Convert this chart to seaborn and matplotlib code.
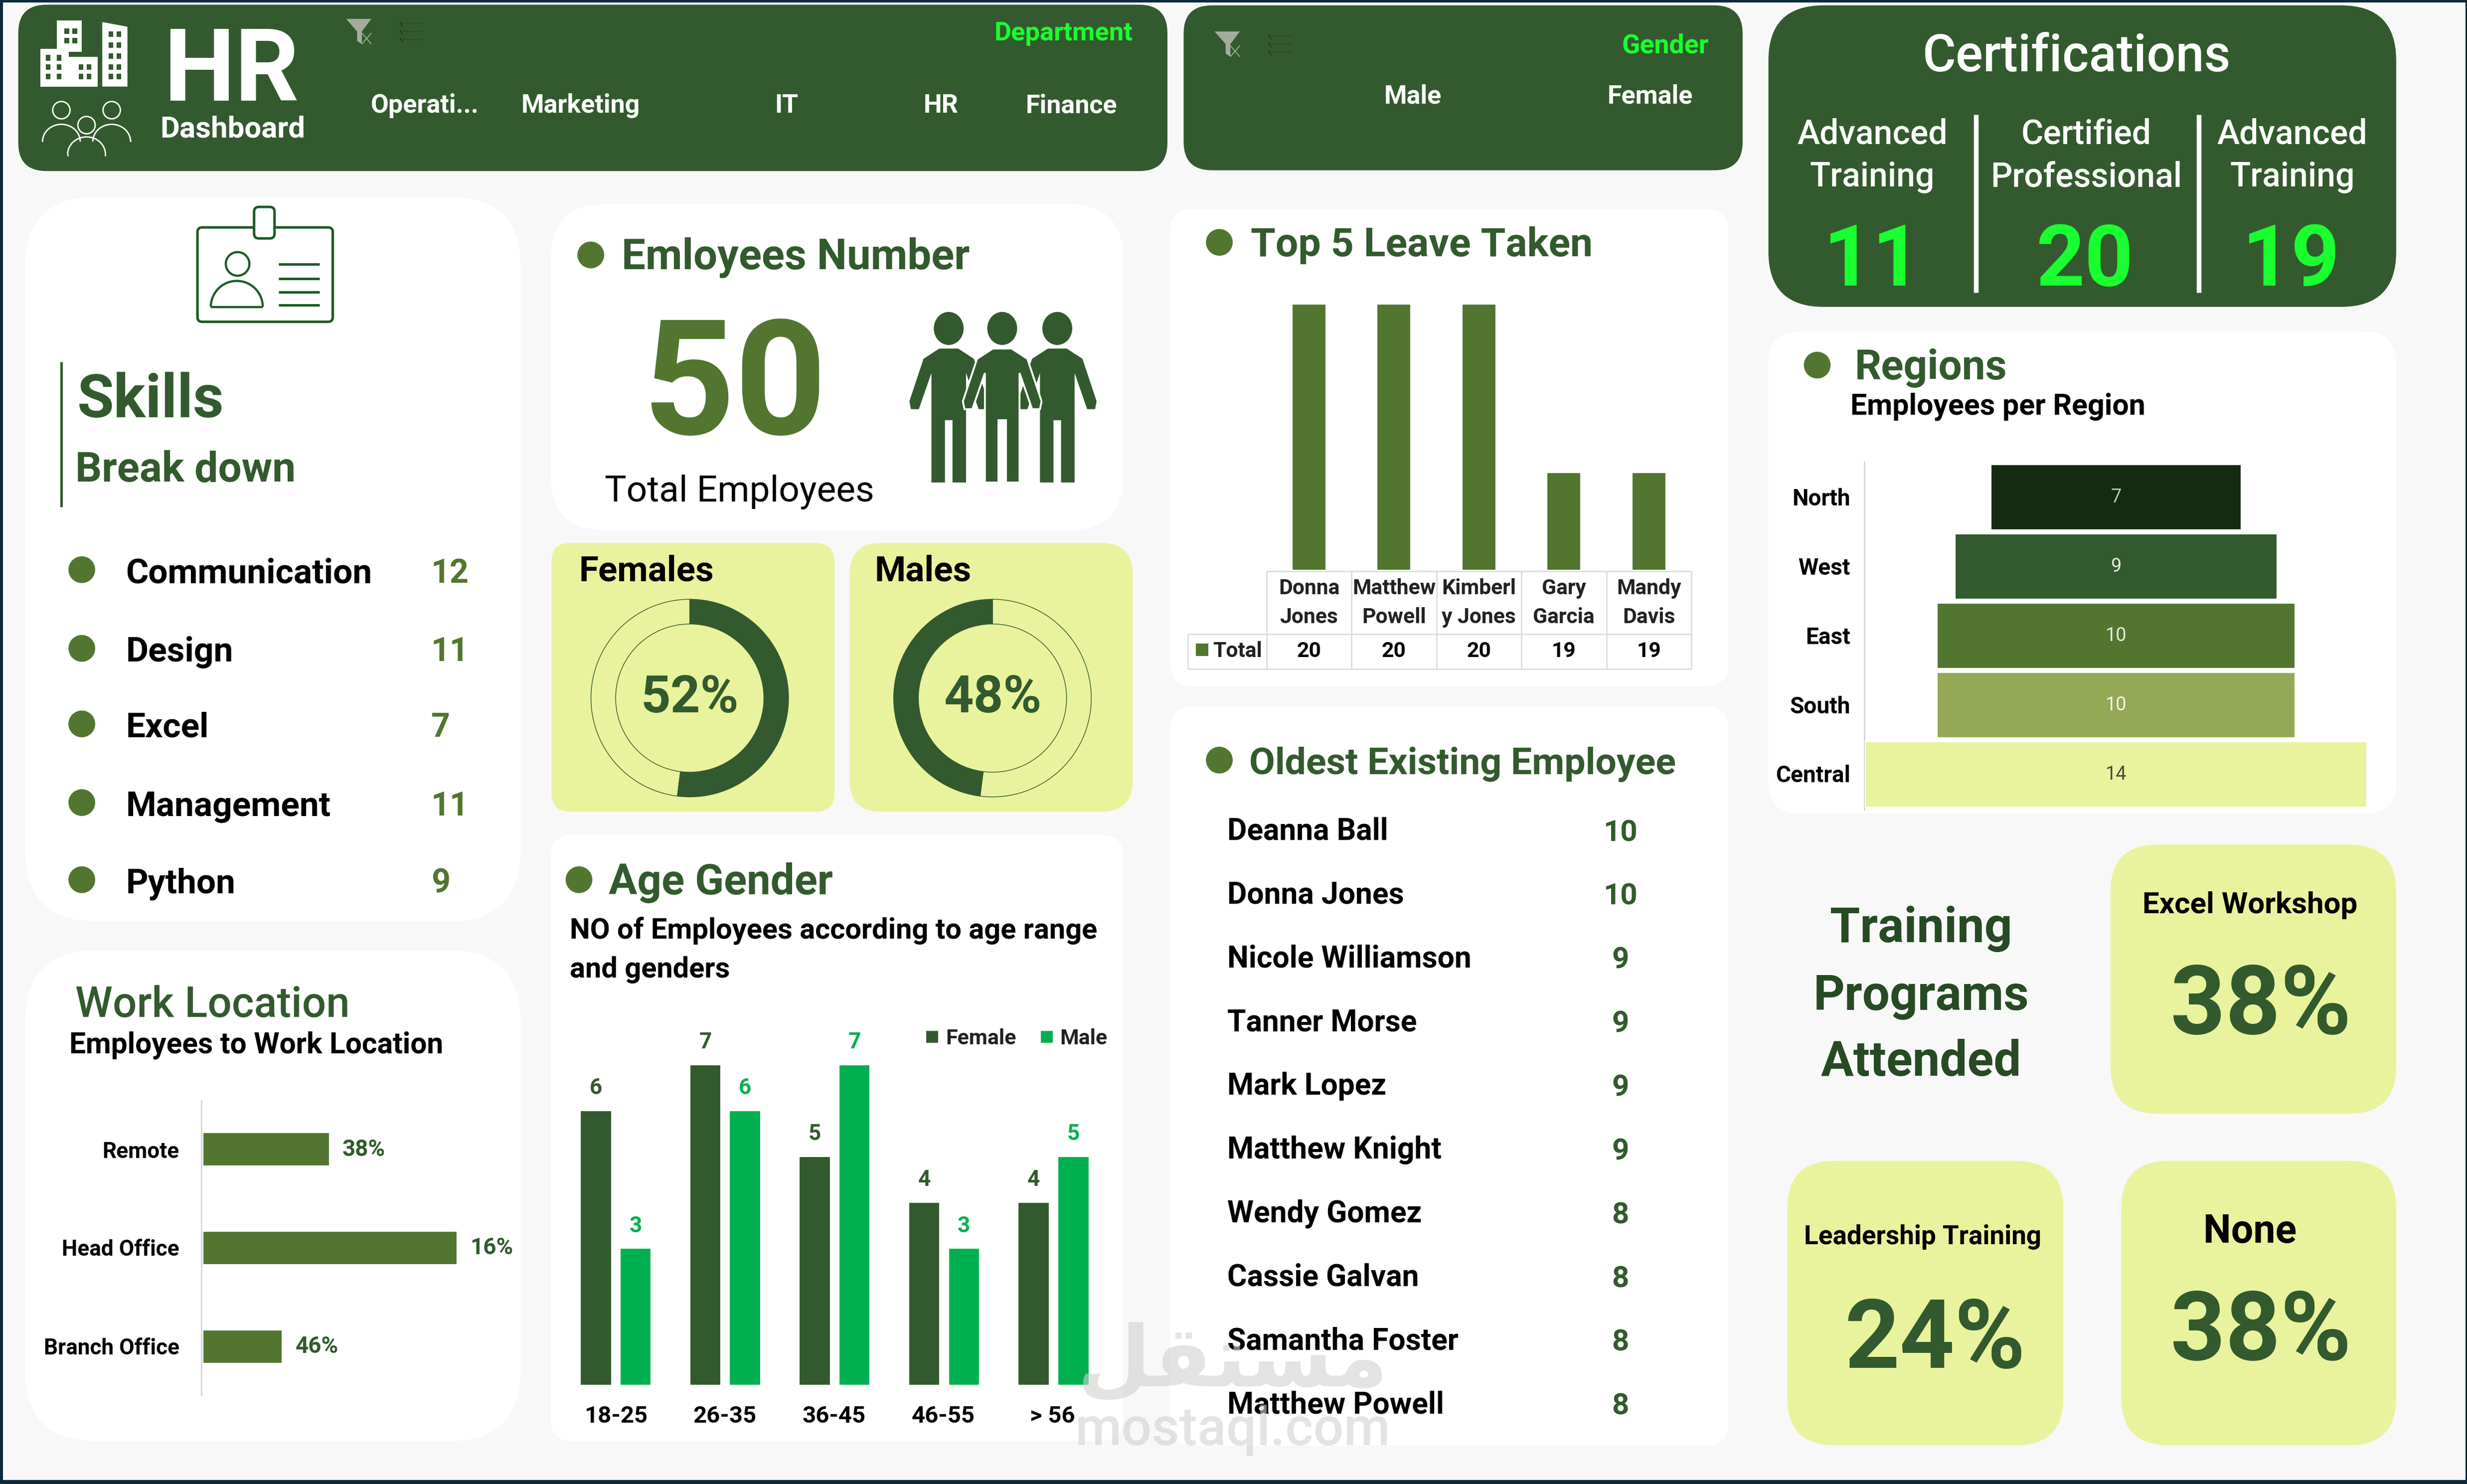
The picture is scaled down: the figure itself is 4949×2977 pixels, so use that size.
import pandas as pd
import matplotlib
matplotlib.use("Agg")
import matplotlib.pyplot as plt
import seaborn as sns
from matplotlib.patches import FancyBboxPatch, Rectangle, Ellipse, Arc, Polygon

# -------------------------
# Data
# -------------------------
departments = ["Operati...", "Marketing", "IT", "HR", "Finance"]
genders = ["Male", "Female"]

skill_names = ["Communication", "Design", "Excel", "Management", "Python"]
skill_counts = [12, 11, 7, 11, 9]

total_employees = 50
female_pct = [52, 48]
male_pct = [48, 52]

work_locations = ["Remote", "Head Office", "Branch Office"]
work_bar_values = [38, 76, 24]
work_labels = ["38%", "16%", "46%"]

age_groups = ["18-25", "26-35", "36-45", "46-55", "> 56"]
female_counts = [6, 7, 5, 4, 4]
male_counts = [3, 6, 7, 3, 5]

leave_names = ["Donna\nJones", "Matthew\nPowell", "Kimberl\ny Jones", "Gary\nGarcia", "Mandy\nDavis"]
leave_totals = [20, 20, 20, 19, 19]

oldest_names = ["Deanna Ball", "Donna Jones", "Nicole Williamson", "Tanner Morse", "Mark Lopez",
                "Matthew Knight", "Wendy Gomez", "Cassie Galvan", "Samantha Foster", "Matthew Powell"]
oldest_years = [10, 10, 9, 9, 9, 9, 8, 8, 8, 8]

cert_names = ["Advanced\nTraining", "Certified\nProfessional", "Advanced\nTraining"]
cert_counts = [11, 20, 19]

regions = ["North", "West", "East", "South", "Central"]
region_counts = [7, 9, 10, 10, 14]

# colours
DARK = "#335a2e"
MID = "#52762f"
LIGHT = "#e9f39d"
BRIGHT = "#1aff2f"
EMERALD = "#00b050"
BG = "#f8f8f8"
NAVY = "#0b2a3c"
region_colors = ["#142b12", DARK, MID, "#94a856", LIGHT]

# -------------------------
# Page set up, everything is placed in a 1568 x 943 grid
# -------------------------
sns.set_theme(style="white")
plt.rcParams["font.family"] = ["Roboto", "DejaVu Sans"]

W, H = 1568, 943
PT = 4949 / W / 300 * 72  # points per grid unit

fig = plt.figure(figsize=(4949 / 300, 2977 / 300), dpi=300, facecolor=BG)
bg = fig.add_axes([0, 0, 1, 1], zorder=0)
bg.set_xlim(0, W)
bg.set_ylim(H, 0)
bg.axis("off")


def box(x0, y0, x1, y1, r, color="white"):
    bg.add_patch(FancyBboxPatch((x0 + r, y0 + r), x1 - x0 - 2 * r, y1 - y0 - 2 * r,
                                boxstyle=f"round,pad={r},rounding_size={r}",
                                fc=color, ec="none"))


def txt(x, y, s, size, color="black", weight="bold", ha="left", ax=None, **kw):
    # va=center sits a little high, so push down in proportion to the font
    if ax is None:
        y = y + size * 0.07
    (ax or bg).text(x, y, s, fontsize=size * PT, color=color, fontweight=weight,
                    ha=ha, va="center", **kw)


def dot(x, y, r=8.5):
    bg.add_patch(Ellipse((x, y), 2 * r, 2 * r, fc=MID, ec="none"))


def chart_axes(x0, y0, x1, y1):
    ax = fig.add_axes([x0 / W, 1 - y1 / H, (x1 - x0) / W, (y1 - y0) / H], zorder=1)
    ax.patch.set_visible(False)
    return ax


def clean(ax):
    ax.set_xlabel("")
    ax.set_ylabel("")
    ax.set_xticks([])
    ax.set_yticks([])
    for s in ax.spines.values():
        s.set_visible(False)


def line(x0, y0, x1, y1, color, w=1.0):
    bg.plot([x0, x1], [y0, y1], color=color, lw=w * PT, solid_capstyle="butt")


def filter_icons(x, y):
    bg.add_patch(Polygon([(x - 8, y - 8), (x + 8, y - 8), (x + 2, y), (x + 2, y + 8), (x - 1, y + 6), (x - 1, y)],
                         fc="#a3ad9e", ec="none"))
    line(x + 2, y + 1, x + 8, y + 8, "#a3ad9e", 0.6)
    line(x + 8, y + 1, x + 2, y + 8, "#a3ad9e", 0.6)
    for dy in (-5, 0, 5):
        line(x + 27, y + dy, x + 41, y + dy, "#2c4c28", 0.7)
        line(x + 26, y + dy - 1, x + 28, y + dy + 2, "#1f3a1c", 0.7)


# -------------------------
# Panels
# -------------------------
box(11.6, 3, 742, 108.7, 18, DARK)
box(752.3, 3.4, 1107.6, 108.2, 18, DARK)
box(1124, 3.4, 1523, 195, 35, DARK)
box(16, 125, 331, 585.4, 45)
box(16, 604, 331, 915.7, 45)
box(350, 129.7, 714, 337, 35)
box(350.5, 345, 530.4, 515.8, 12, LIGHT)
box(540, 345, 720, 515.8, 20, LIGHT)
box(350, 530.6, 714, 915.7, 14)
box(743.8, 133, 1098.5, 436, 14)
box(743.8, 449, 1098.5, 918.6, 14)
box(1124, 210.6, 1523, 517, 20)
box(1341.4, 536.7, 1523, 707.7, 30, LIGHT)
box(1136, 737.7, 1311.4, 918.4, 30, LIGHT)
box(1348.3, 737.7, 1523, 918.4, 30, LIGHT)

# page edge
bg.add_patch(Rectangle((0, 0), 2, H, fc=NAVY, ec="none"))
bg.add_patch(Rectangle((0, 0), W, 1.6, fc=NAVY, ec="none"))
bg.add_patch(Rectangle((0, H - 2.6), W, 2.6, fc=NAVY, ec="none"))
bg.add_patch(Rectangle((W - 1, 0), 1, H, fc=NAVY, ec="none"))

# -------------------------
# Header and slicers
# -------------------------
for x0, y0, x1, y1 in [(36, 13, 52, 33), (25.7, 31, 43.6, 55), (43.6, 36, 62, 55)]:
    bg.add_patch(Rectangle((x0, y0), x1 - x0, y1 - y0, fc="white", ec="none"))
bg.add_patch(Polygon([(65, 14), (81, 17), (81, 55), (65, 55)], fc="white", ec="none"))
for wx, wy in [(41, 18), (46, 18), (41, 24), (46, 24), (29, 35), (36, 35), (29, 41), (36, 41), (29, 47), (36, 47),
               (50, 41), (55, 41), (50, 47), (55, 47), (69, 20), (74, 20), (69, 27), (74, 27), (69, 34), (74, 34),
               (69, 41), (74, 41), (69, 47), (74, 47)]:
    bg.add_patch(Rectangle((wx, wy), 3, 3.5, fc=DARK, ec="none"))
for cx, cy in [(39, 70), (71, 70), (55, 79.5)]:
    bg.add_patch(Ellipse((cx, cy), 11, 11, fc=DARK, ec="white", lw=0.9 * PT))
for cx, cy in [(39, 90), (71, 90), (55, 98)]:
    bg.add_patch(Arc((cx, cy), 24, 22, theta1=180, theta2=360, ec="white", lw=0.9 * PT))
line(27, 90, 27, 89, "white", 0.9)
line(83, 90, 83, 89, "white", 0.9)
line(43, 98, 43, 99, "white", 0.9)
line(67, 98, 67, 99, "white", 0.9)

txt(147, 42, "HR", 64, "white", ha="center")
txt(148, 81, "Dashboard", 19, "white", ha="center")
filter_icons(228, 20)
txt(720, 20, "Department", 16.6, BRIGHT, ha="right")
for x, name in zip([270, 369, 500, 598, 681], departments):
    txt(x, 66, name, 16.5, "white", ha="center")

filter_icons(780, 28)
txt(1086, 28, "Gender", 17, BRIGHT, ha="right")
for x, name in zip([898, 1049], genders):
    txt(x, 60, name, 16.5, "white", ha="center")

# -------------------------
# Certifications
# -------------------------
txt(1320, 34, "Certifications", 32.5, "white", weight="medium", ha="center")
for x, xn, name, n in zip([1190, 1326, 1457], [1190, 1325, 1456], cert_names, cert_counts):
    top, bottom = name.split("\n")
    txt(x, 84, top, 21.5, "white", weight="medium", ha="center")
    txt(x, 111, bottom, 21.5, "white", weight="medium", ha="center")
    txt(xn, 163, str(n), 54, BRIGHT, ha="center")
line(1255.8, 73, 1255.8, 186, "white", 3)
line(1397.5, 73, 1397.5, 186, "white", 3)

# -------------------------
# Skills
# -------------------------
GREEN_LINE = "#1d5b25"
bg.add_patch(FancyBboxPatch((127, 146), 83, 57, boxstyle="round,pad=1.5,rounding_size=3", fc="white", ec=GREEN_LINE, lw=1.6 * PT))
bg.add_patch(FancyBboxPatch((163, 133), 10, 17, boxstyle="round,pad=1.5,rounding_size=3", fc="white", ec=GREEN_LINE, lw=1.6 * PT))
bg.add_patch(Ellipse((151, 167.7), 15, 15, fc="white", ec=GREEN_LINE, lw=1.4 * PT))
bg.add_patch(Arc((150.5, 195), 33, 33, theta1=180, theta2=360, ec=GREEN_LINE, lw=1.4 * PT))
line(134, 195, 167, 195, GREEN_LINE, 1.4)
for y in (168, 177, 185.5, 194):
    line(177, y, 203, y, GREEN_LINE, 1.6)

line(39, 230, 39, 322, DARK, 1.6)
txt(49, 252, "Skills", 38, DARK)
txt(48, 297, "Break down", 26.5, DARK)
for y, name, n in zip([362, 412, 460, 510, 559], skill_names, skill_counts):
    dot(52, y)
    txt(80, y + 1, name, 22)
    txt(274, y + 1, str(n), 21, MID)

# -------------------------
# Employees number
# -------------------------
dot(375.5, 162)
txt(395, 162, "Emloyees Number", 27, DARK)
txt(467, 241, str(total_employees), 102, MID, ha="center")
txt(470, 311, "Total Employees", 23.2, weight="normal", ha="center")


def person(cx, edge="none"):
    bg.add_patch(Ellipse((cx, 208.7), 19, 21, fc=DARK, ec="none"))
    pts = [(cx - 6, 221.5), (cx + 6, 221.5), (cx + 16, 228), (cx + 20, 240), (cx + 25, 255), (cx + 24, 260),
           (cx + 19, 260), (cx + 11, 237), (cx + 11, 306.6), (cx + 2.4, 306.6), (cx + 2.4, 267), (cx - 2.4, 267),
           (cx - 2.4, 306.6), (cx - 11, 306.6), (cx - 11, 237), (cx - 19, 260), (cx - 24, 260), (cx - 25, 255),
           (cx - 20, 240), (cx - 16, 228)]
    bg.add_patch(Polygon(pts, fc=DARK, ec=edge, lw=1.2 * PT))


person(603)
person(672)
person(637, edge="white")

# -------------------------
# Female / male donuts
# -------------------------
txt(368, 361.5, "Females", 22.5)
txt(556, 361.5, "Males", 22.5)
for cx, vals, ccw in [(438.4, female_pct, False), (630.8, male_pct, True)]:
    ax = chart_axes(cx - 65, 443.6 - 65, cx + 65, 443.6 + 65)
    ax.pie(vals, colors=[DARK, "none"], startangle=90, counterclock=ccw, radius=1,
           wedgeprops=dict(width=0.25, edgecolor=DARK, linewidth=0.35))
    ax.set_xlim(-65 / 62.8, 65 / 62.8)
    ax.set_ylim(-65 / 62.8, 65 / 62.8)
    txt(0, 0.0, f"{vals[0]}%", 33, DARK, ha="center", ax=ax)

# -------------------------
# Work location
# -------------------------
txt(48, 637, "Work Location", 27, DARK, weight="medium")
txt(44, 663, "Employees to Work Location", 18.6)
ax = chart_axes(128.5, 699, 342, 887)
work_df = pd.DataFrame({"location": work_locations, "value": work_bar_values})
sns.barplot(data=work_df, y="location", x="value", color=MID, saturation=1, width=0.35, ax=ax)
ax.set_xlim(0, 100)
clean(ax)
ax.bar_label(ax.containers[0], labels=work_labels, padding=6, fontsize=14.5 * PT, color=DARK, fontweight="bold")
line(128, 699, 128, 887, "#d0d0d0", 0.8)
for y, name in zip([731, 793, 856], work_locations):
    txt(114, y, name, 14, ha="right")

# -------------------------
# Age / gender
# -------------------------
dot(368, 559)
txt(387, 559, "Age Gender", 27, DARK)
txt(362, 590, "NO of Employees according to age range", 18.3)
txt(362, 615, "and genders", 18.3)
age_df = pd.DataFrame({"age": age_groups * 2,
                       "count": female_counts + male_counts,
                       "gender": ["Female"] * len(age_groups) + ["Male"] * len(age_groups)})
ax = chart_axes(356.6, 647, 704.4, 880.6)
sns.barplot(data=age_df, x="age", y="count", hue="gender", palette=[DARK, EMERALD], saturation=1,
            width=0.725, gap=0.19, ax=ax)
ax.set_xlim(-0.5, 4.5)
ax.set_ylim(0, 8)
leg = ax.legend(loc="center", bbox_to_anchor=(646, 660), bbox_transform=bg.transData, ncols=2, frameon=False,
                handlelength=0.65, handleheight=0.65, handletextpad=0.3, columnspacing=1.1,
                prop=dict(size=13.6 * PT, weight="bold"))
for t in leg.get_texts():
    t.set_color("#222222")
clean(ax)
for cont, col in zip(ax.containers, [DARK, EMERALD]):
    ax.bar_label(cont, padding=5.5, fontsize=14 * PT, color=col, fontweight="bold")
for x, name in zip([391.4, 460.8, 530, 599.6, 669], age_groups):
    txt(x, 899, name, 15, ha="center")

# -------------------------
# Top 5 leave
# -------------------------
dot(775, 154)
txt(795, 154, "Top 5 Leave Taken", 25.5, DARK)
leave_df = pd.DataFrame({"name": leave_names, "total": leave_totals})
ax = chart_axes(805, 193, 1075, 362)
sns.barplot(data=leave_df, x="name", y="total", color=MID, saturation=1, width=0.41, ax=ax)
ax.set_ylim(18.42, 20)
clean(ax)
GRID = "#d9d9d9"
for i in range(6):
    line(805 + i * 54, 363, 805 + i * 54, 425, GRID, 0.8)
line(805, 363, 1075, 363, GRID, 0.8)
line(755, 403, 1075, 403, GRID, 0.8)
line(755, 425, 1075, 425, GRID, 0.8)
line(755, 403, 755, 425, GRID, 0.8)
bg.add_patch(Rectangle((760, 409), 8, 8, fc=MID, ec="none"))
txt(771, 413, "Total", 13.5, "#222222")
for i, (name, total) in enumerate(zip(leave_names, leave_totals)):
    cx = 832 + i * 54
    top, bottom = name.split("\n")
    txt(cx, 373, top, 13.5, "#222222", ha="center")
    txt(cx, 391.5, bottom, 13.5, "#222222", ha="center")
    txt(cx, 413, str(total), 13.5, ha="center")

# -------------------------
# Oldest employees
# -------------------------
dot(775, 483)
txt(794, 484, "Oldest Existing Employee", 23.8, DARK)
for i, (name, years) in enumerate(zip(oldest_names, oldest_years)):
    y = 527 + i * 40.5
    txt(780, y, name, 19.2)
    txt(1030, y + 1, str(years), 19, DARK, ha="center")

# -------------------------
# Regions funnel
# -------------------------
dot(1155, 232)
txt(1179, 232, "Regions", 26.5, DARK)
txt(1176, 257, "Employees per Region", 18.7)
region_df = pd.DataFrame({"region": regions, "count": region_counts})
ax = chart_axes(1185.3, 294, 1504.7, 514)
sns.barplot(data=region_df, y="region", x="count", hue="region", palette=region_colors, saturation=1,
            width=0.955, legend=False, dodge=False, ax=ax)
for bar in ax.patches:
    bar.set_x(-bar.get_width() / 2)
ax.set_xlim(-7, 7)
clean(ax)
for cont, col in zip(ax.containers, ["#b9c2b2", "#e4e8df", "#e4e8df", "#f1f3e6", "#4a4a3c"]):
    ax.bar_label(cont, label_type="center", fontsize=12 * PT, color=col)
line(1185, 293, 1185, 515, "#d0d0d0", 0.8)
for y, name in zip([316, 360, 404, 448, 492], regions):
    txt(1176, y, name, 14.6, ha="right")

# -------------------------
# Training programs
# -------------------------
TRAIN = "#274a24"
for y, word in zip([588, 631, 673], ["Training", "Programs", "Attended"]):
    txt(1221, y, word, 31, TRAIN, ha="center")
txt(1430, 574, "Excel Workshop", 19, ha="center")
txt(1437, 636, "38%", 61, DARK, ha="center")
txt(1222, 785, "Leadership Training", 16.8, ha="center")
txt(1230, 848, "24%", 61, DARK, ha="center")
txt(1430, 781, "None", 25, ha="center")
txt(1437, 843, "38%", 61, DARK, ha="center")

# -------------------------
# Watermark
# -------------------------
top = fig.add_axes([0, 0, 1, 1], zorder=5)
top.set_xlim(0, W)
top.set_ylim(H, 0)
top.axis("off")
top.patch.set_visible(False)
top.text(783.5, 866, "\ufede\ufed8\ufe98\ufeb4\ufee3", fontsize=54 * PT, color="#cfd2cf", alpha=0.6, fontweight="bold",
         family="DejaVu Sans", ha="center", va="center")
top.text(783.5, 909, "mostaql.com", fontsize=34 * PT, color="#cfd2cf", alpha=0.6, fontweight="medium",
         ha="center", va="center")

fig.savefig("out.png", dpi=300, facecolor=BG)
